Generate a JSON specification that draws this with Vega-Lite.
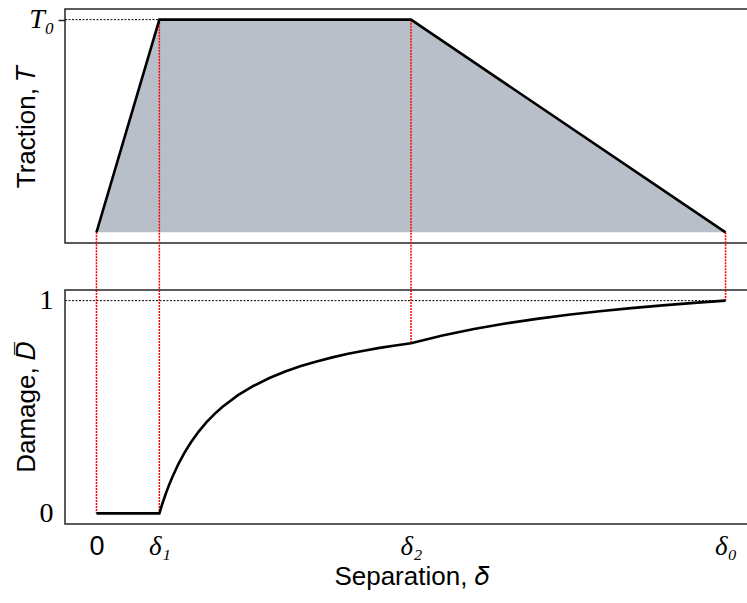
{
  "$schema": "https://vega.github.io/schema/vega-lite/v6.json",
  "background": "white",
  "padding": {"left": 12, "top": 4, "right": 0, "bottom": 0},
  "bounds": "flush",
  "spacing": 47,
  "datasets": {
    "traction": [
      {"d": 0, "T": 0}, {"d": 0.2, "T": 1}, {"d": 1, "T": 1}, {"d": 2, "T": 0}
    ],
    "damage": [
      {"d": 0, "D": 0}, {"d": 0.2, "D": 0},
      {"d": 0.21, "D": 0.0476}, {"d": 0.22, "D": 0.0909}, {"d": 0.23, "D": 0.1304},
      {"d": 0.24, "D": 0.1667}, {"d": 0.26, "D": 0.2308}, {"d": 0.28, "D": 0.2857},
      {"d": 0.3, "D": 0.3333}, {"d": 0.325, "D": 0.3846}, {"d": 0.35, "D": 0.4286},
      {"d": 0.375, "D": 0.4667}, {"d": 0.4, "D": 0.5}, {"d": 0.45, "D": 0.5556},
      {"d": 0.5, "D": 0.6}, {"d": 0.55, "D": 0.6364}, {"d": 0.6, "D": 0.6667},
      {"d": 0.65, "D": 0.6923}, {"d": 0.7, "D": 0.7143}, {"d": 0.75, "D": 0.7333},
      {"d": 0.8, "D": 0.75}, {"d": 0.85, "D": 0.7647}, {"d": 0.9, "D": 0.7778},
      {"d": 0.95, "D": 0.7895}, {"d": 1.0, "D": 0.8},
      {"d": 1.1, "D": 0.8364}, {"d": 1.2, "D": 0.8667}, {"d": 1.3, "D": 0.8923},
      {"d": 1.4, "D": 0.9143}, {"d": 1.5, "D": 0.9333}, {"d": 1.6, "D": 0.95},
      {"d": 1.7, "D": 0.9647}, {"d": 1.8, "D": 0.9778}, {"d": 1.9, "D": 0.9895},
      {"d": 2.0, "D": 1.0}
    ],
    "topGuides": [
      {"d": 0, "y1": 0, "y2": -0.275},
      {"d": 0.2, "y1": 1, "y2": -0.275},
      {"d": 1, "y1": 1, "y2": -0.275},
      {"d": 2, "y1": 0, "y2": -0.275}
    ],
    "botGuides": [
      {"d": 0, "y1": 1.05, "y2": 0},
      {"d": 0.2, "y1": 1.05, "y2": 0},
      {"d": 1, "y1": 1.05, "y2": 0.8},
      {"d": 2, "y1": 1.05, "y2": 1}
    ],
    "refTop": [{"x1": -0.1, "x2": 0.2, "y": 1}],
    "refBot": [{"x1": -0.1, "x2": 2, "y": 1}]
  },
  "vconcat": [
    {
      "width": 692,
      "height": 234,
      "layer": [
        {
          "data": {"name": "traction"},
          "mark": {"type": "area", "color": "#b8bfc8", "opacity": 1},
          "encoding": {
            "x": {"field": "d", "type": "quantitative",
                  "scale": {"domain": [-0.1, 2.1], "nice": false, "zero": false}, "axis": null},
            "y": {"field": "T", "type": "quantitative",
                  "scale": {"domain": [-0.05, 1.05], "nice": false, "zero": false},
                  "axis": {
                    "values": [1], "labelExpr": "'T₀'",
                    "title": "Traction, 𝑇",
                    "tickSize": 7, "tickColor": "#262626", "tickWidth": 1.5,
                    "labelFont": "Liberation Serif", "labelFontStyle": "italic",
                    "labelFontSize": 28, "labelColor": "black", "labelPadding": 4,
                    "titleFont": "Liberation Sans", "titleFontSize": 26,
                    "titleFontWeight": "normal", "titleColor": "black",
                    "titleX": -39, "titleY": 117, "titleBaseline": "middle", "titleAngle": -90
                  }},
            "y2": {"datum": 0}
          }
        },
        {
          "data": {"name": "refTop"},
          "mark": {"type": "rule", "color": "black", "strokeWidth": 1, "strokeDash": [2, 1.5]},
          "encoding": {
            "x": {"field": "x1", "type": "quantitative"},
            "x2": {"field": "x2"},
            "y": {"field": "y", "type": "quantitative"}
          }
        },
        {
          "data": {"name": "topGuides"},
          "mark": {"type": "rule", "color": "#ff0000", "strokeWidth": 1.5, "strokeDash": [2, 1]},
          "encoding": {
            "x": {"field": "d", "type": "quantitative"},
            "y": {"field": "y1", "type": "quantitative"},
            "y2": {"field": "y2"}
          }
        },
        {
          "data": {"name": "traction"},
          "mark": {"type": "line", "color": "black", "strokeWidth": 2.6},
          "encoding": {
            "x": {"field": "d", "type": "quantitative"},
            "y": {"field": "T", "type": "quantitative"}
          }
        }
      ]
    },
    {
      "width": 692,
      "height": 234,
      "layer": [
        {
          "data": {"name": "refBot"},
          "mark": {"type": "rule", "color": "black", "strokeWidth": 1, "strokeDash": [2, 1.5]},
          "encoding": {
            "x": {"field": "x1", "type": "quantitative",
                  "scale": {"domain": [-0.1, 2.1], "nice": false, "zero": false},
                  "axis": {
                    "values": [0, 0.2, 1, 2],
                    "labelExpr": "datum.value == 0 ? '0' : datum.value < 0.5 ? 'δ₁' : datum.value < 1.5 ? 'δ₂' : 'δ₀'",
                    "ticks": false, "labelPadding": 9, "labelFlush": false, "labelOverlap": false,
                    "labelFont": {"condition": {"test": "datum.value == 0", "value": "Liberation Sans"}, "value": "Liberation Serif"},
                    "labelFontStyle": {"condition": {"test": "datum.value == 0", "value": "normal"}, "value": "italic"},
                    "labelFontSize": 27, "labelColor": "black",
                    "title": "Separation, 𝛿",
                    "titleFont": "Liberation Sans", "titleFontSize": 26,
                    "titleFontWeight": "normal", "titleColor": "black", "titlePadding": 4
                  }},
            "x2": {"field": "x2"},
            "y": {"field": "y", "type": "quantitative",
                  "scale": {"domain": [-0.05, 1.05], "nice": false, "zero": false},
                  "axis": {
                    "values": [0, 1], "ticks": false, "format": "d",
                    "labelFont": "Liberation Serif", "labelFontSize": 28,
                    "labelColor": "black", "labelPadding": 12,
                    "title": "Damage, 𝐷̅",
                    "titleFont": "Liberation Sans", "titleFontSize": 26,
                    "titleFontWeight": "normal", "titleColor": "black",
                    "titleX": -39, "titleY": 117, "titleBaseline": "middle", "titleAngle": -90
                  }}
          }
        },
        {
          "data": {"name": "botGuides"},
          "mark": {"type": "rule", "color": "#ff0000", "strokeWidth": 1.5, "strokeDash": [2, 1]},
          "encoding": {
            "x": {"field": "d", "type": "quantitative"},
            "y": {"field": "y1", "type": "quantitative"},
            "y2": {"field": "y2"}
          }
        },
        {
          "data": {"name": "damage"},
          "mark": {"type": "line", "color": "black", "strokeWidth": 2.6},
          "encoding": {
            "x": {"field": "d", "type": "quantitative"},
            "y": {"field": "D", "type": "quantitative"}
          }
        }
      ]
    }
  ],
  "config": {
    "view": {"stroke": "#262626", "strokeWidth": 1.5},
    "axis": {"domain": false, "grid": false}
  }
}
